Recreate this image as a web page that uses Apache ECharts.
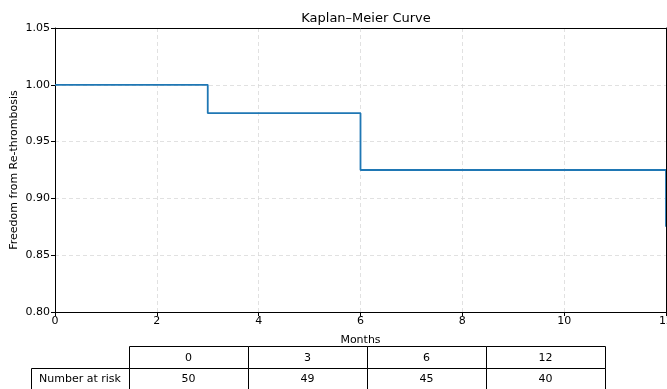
<!DOCTYPE html>
<html>
<head>
<meta charset="utf-8">
<script src="https://cdn.jsdelivr.net/npm/echarts@6/dist/echarts.min.js"></script>
<style>html,body{margin:0;padding:0;background:#fff;}#c{width:667px;height:389px;}</style>
</head>
<body>
<div id="c"></div>
<script>
// Data
var kmTimes = [0, 3, 6, 12];
var kmSurvival = [1.0, 0.975, 0.925, 0.875];
var riskTimes = ['0', '3', '6', '12'];
var riskCounts = ['50', '49', '45', '40'];
var riskRowLabel = 'Number at risk';
var yAxisTitle = 'Freedom from Re-thrombosis';

var FONT = 'DejaVu Sans';
var chart = echarts.init(document.getElementById('c'), null, {renderer: 'canvas'});

var kmData = kmTimes.map(function (t, i) { return [t, kmSurvival[i]]; });

// table graphic
var g = [];
var colX = [129, 248, 367, 486, 605];
var rowY = [346, 368, 390];
var labelX0 = 31;
function rect(x, y, w, h) {
  return {type: 'rect', shape: {x: x + 0.5, y: y + 0.5, width: w, height: h}, style: {fill: '#fff', stroke: '#000', lineWidth: 1}, z: 10};
}
function txt(s, cx, cy) {
  return {type: 'text', x: cx, y: cy, style: {text: s, fill: '#000', font: '11px "' + FONT + '"', align: 'center', verticalAlign: 'middle'}, z: 11};
}
for (var i = 0; i < riskTimes.length; i++) {
  g.push(rect(colX[i], rowY[0], colX[i + 1] - colX[i], rowY[1] - rowY[0]));
  g.push(txt(riskTimes[i], (colX[i] + colX[i + 1]) / 2, (rowY[0] + rowY[1]) / 2 + 1));
  g.push(rect(colX[i], rowY[1], colX[i + 1] - colX[i], rowY[2] - rowY[1]));
  g.push(txt(riskCounts[i], (colX[i] + colX[i + 1]) / 2, (rowY[1] + rowY[2]) / 2));
}
g.push(rect(labelX0, rowY[1], colX[0] - labelX0, rowY[2] - rowY[1]));
g.push(txt(riskRowLabel, (labelX0 + colX[0]) / 2, (rowY[1] + rowY[2]) / 2));
// y-axis title
g.push({type: 'text', x: 14, y: 170, rotation: Math.PI / 2,
  style: {text: yAxisTitle, fill: '#000', font: '11px "' + FONT + '"', align: 'center', verticalAlign: 'middle'}, z: 11});

var splitStyle = {color: '#d9d9d9', type: [4, 3], width: 0.8};
var lbl = {fontFamily: FONT, fontSize: 11, color: '#000'};
var option = {
  animation: false,
  backgroundColor: '#fff',
  textStyle: {fontFamily: FONT},
  title: {
    text: 'Kaplan–Meier Curve',
    left: 361, top: 7, textAlign: 'center',
    textStyle: {fontFamily: FONT, fontSize: 13, fontWeight: 'normal', color: '#000'}
  },
  grid: {left: 55, right: 1, top: 28, bottom: 77, containLabel: false, outerBoundsMode: 'none'},
  xAxis: [{
    type: 'value', min: 0, max: 12, interval: 2,
    name: 'Months', nameLocation: 'middle', nameGap: 23,
    nameTextStyle: lbl,
    axisLine: {show: true, onZero: false, lineStyle: {color: '#000', width: 1}},
    axisTick: {show: true, length: 4, lineStyle: {color: '#000'}},
    axisLabel: Object.assign({margin: 4, showMaxLabel: true, showMinLabel: true, hideOverlap: false}, lbl),
    splitLine: {show: true, lineStyle: splitStyle}
  }, {
    type: 'value', min: 0, max: 12, position: 'top', z: 5,
    axisLine: {show: true, onZero: false, lineStyle: {color: '#000', width: 1}},
    axisTick: {show: false}, axisLabel: {show: false}, splitLine: {show: false}
  }],
  yAxis: [{
    type: 'value', min: 0.8, max: 1.05, interval: 0.05,
    axisLine: {show: true, onZero: false, lineStyle: {color: '#000', width: 1}},
    axisTick: {show: true, length: 4, lineStyle: {color: '#000'}},
    axisLabel: Object.assign({margin: 5, formatter: function (v) { return v.toFixed(2); }}, lbl),
    splitLine: {show: true, lineStyle: splitStyle}
  }, {
    type: 'value', min: 0.8, max: 1.05, position: 'right', z: 5,
    axisLine: {show: true, onZero: false, lineStyle: {color: '#000', width: 1}},
    axisTick: {show: false}, axisLabel: {show: false}, splitLine: {show: false}
  }],
  series: [{
    type: 'line', step: 'end', data: kmData,
    showSymbol: false, symbol: 'none',
    lineStyle: {color: '#1f77b4', width: 1.8},
    clip: false
  }],
  graphic: g
};
chart.setOption(option);
</script>
</body>
</html>
